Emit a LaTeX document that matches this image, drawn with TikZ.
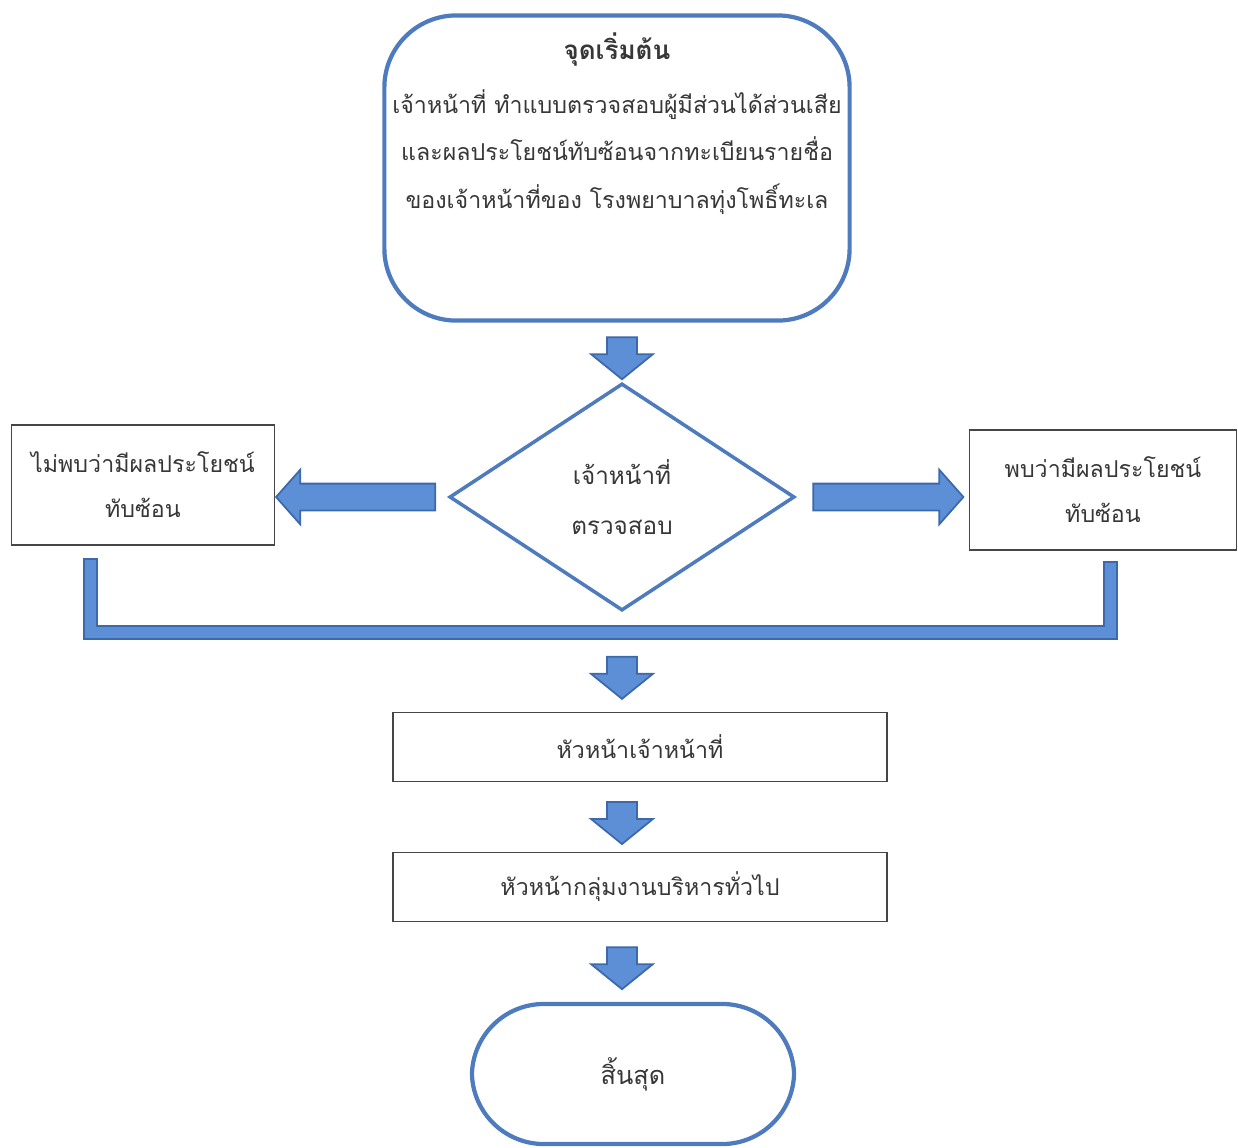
\documentclass[tikz,border=0pt]{standalone}
\usepackage{fontspec}
\newfontfamily\thaifont[Script=Thai]{Loma}
\usetikzlibrary{shapes.geometric,shapes.arrows,positioning,calc}
\definecolor{flowblue}{RGB}{78,122,190}
\definecolor{arrowfill}{RGB}{93,143,215}
\definecolor{arrowedge}{RGB}{60,104,172}
\definecolor{boxline}{RGB}{70,70,70}
\definecolor{thaitext}{RGB}{55,55,55}
\newcommand\flowfont{\thaifont\fontsize{6.6}{13.4}\selectfont}
\tikzset{
  downarrow/.style={single arrow,draw=arrowedge,fill=arrowfill,line width=.5pt,
    inner sep=0pt,inner ysep=.14cm,single arrow head extend=.16cm,
    single arrow tip angle=102,minimum height=.42cm,sloped,allow upside down},
  sidearrow/.style={single arrow,draw=arrowedge,fill=arrowfill,line width=.5pt,
    inner sep=0pt,inner ysep=.125cm,single arrow head extend=.14cm,
    single arrow tip angle=97,sloped,allow upside down},
  barout/.style={draw=arrowedge,line width=.15cm},
  barin/.style={draw=arrowfill,line width=.11cm,shorten <=.025cm,shorten >=.025cm}
}
\begin{document}
\begin{tikzpicture}[x=.01cm,y=-.01cm]%
        \useasboundingbox (0,0) rectangle (1238,1147);%%
        \begin{scope}[rounded corners=.72cm,inner sep=0pt]
        \tikzstyle{every node}=[draw=flowblue,line width=1.2pt,font=\flowfont,text=thaitext] %%
        \node (start) at (617,168) [minimum width=4.65cm,minimum height=3.05cm]
          {\parbox[c][2.7cm][t]{4.6cm}{\centering{\bfseries\fontsize{7.4}{13.4}\selectfont จุดเริ่มต้น}\\[2pt]
          เจ้าหน้าที่ ทำแบบตรวจสอบผู้มีส่วนได้ส่วนเสีย\\
          และผลประโยชน์ทับซ้อนจากทะเบียนรายชื่อ\\
          ของเจ้าหน้าที่ของ โรงพยาบาลทุ่งโพธิ์ทะเล}}; %%
        \node (stop) at (633,1074) [minimum width=3.22cm,minimum height=1.4cm,font=\thaifont\fontsize{7.2}{13.4}\selectfont] {สิ้นสุด}; %%
        \end{scope}%
        \begin{scope}[shape=diamond,inner sep=0pt]
        \tikzstyle{every node}=[draw=flowblue,line width=1pt,align=center,font=\thaifont\fontsize{6.9}{14}\selectfont,text=thaitext] %%
        \node (check) at (622,497) [minimum width=3.45cm,minimum height=2.27cm] {เจ้าหน้าที่\\ตรวจสอบ}; %%
        \end{scope}
        \begin{scope}[shape=rectangle,inner sep=0pt]
        \tikzstyle{every node}=[draw=boxline,line width=.5pt,align=center,font=\thaifont\fontsize{6.6}{12.8}\selectfont,text=thaitext] %%
        \node (nofound) at (143,485) [minimum width=2.63cm,minimum height=1.2cm] {ไม่พบว่ามีผลประโยชน์\\ทับซ้อน}; %%
        \node (found) at (1103,490) [minimum width=2.67cm,minimum height=1.2cm] {พบว่ามีผลประโยชน์\\ทับซ้อน}; %%
        \node (boss) at (640,747) [minimum width=4.93cm,minimum height=.69cm] {หัวหน้าเจ้าหน้าที่}; %%
        \node (admin) at (640,887) [minimum width=4.93cm,minimum height=.69cm] {หัวหน้ากลุ่มงานบริหารทั่วไป}; %%
        \end{scope}
        \coordinate (jl) at ([xshift=.8cm,yshift=-.12cm]nofound.south west); %%
        \coordinate (jr) at ([xshift=.07cm,yshift=-.1cm]found.south); %%
        \coordinate (jm) at (622,632); %%
        \draw[barout] (jl) |- (jm) -| (jr); %%
        \draw[barin] (jl) |- (jm) -| (jr); %%
        \path (start.south -| check.north) -- node[downarrow]{} (check.north); %%
        \path (check.west) -- node[sidearrow,minimum height=1.59cm]{} (check.west -| nofound.east); %%
        \path (check.east) -- node[sidearrow,minimum height=1.5cm]{} (check.east -| found.west); %%
        \path (jm) -- node[downarrow]{} (jm |- boss.north); %%
        \path (boss.south -| jm) -- node[downarrow]{} (admin.north -| jm); %%
        \path (admin.south -| jm) -- node[downarrow]{} (stop.north -| jm); %%
\end{tikzpicture}
\end{document}
